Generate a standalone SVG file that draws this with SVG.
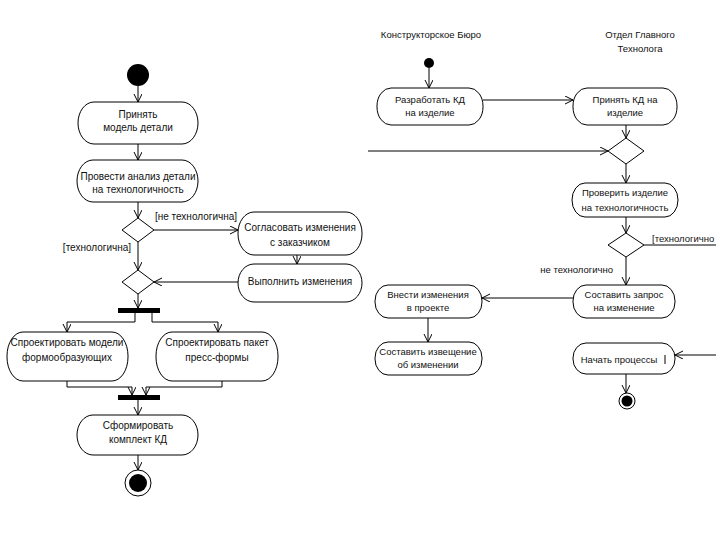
<svg xmlns="http://www.w3.org/2000/svg" width="720" height="540" viewBox="0 0 720 540">
<defs>
<marker id="arr" markerUnits="userSpaceOnUse" markerWidth="10" markerHeight="10" refX="8" refY="4" orient="auto">
<path d="M0,0 L8,4 L0,8" fill="none" stroke="#000" stroke-width="1"/>
</marker>
<style>
.n{fill:#fff;stroke:#000;stroke-width:1}
.t{font-family:"Liberation Sans",Arial,sans-serif;font-size:10px;fill:#111;text-anchor:middle}
.s{font-family:"Liberation Sans",Arial,sans-serif;font-size:9.5px;fill:#111;text-anchor:middle}
.c{fill:none;stroke:#000;stroke-width:1}
.a{fill:none;stroke:#000;stroke-width:1;marker-end:url(#arr)}
.bar{fill:#000}
</style>
</defs>
<rect width="720" height="540" fill="#fff"/>

<g id="connectors">
<line class="a" x1="138" y1="86" x2="138" y2="102"/>
<line class="a" x1="138" y1="144" x2="138" y2="160"/>
<line class="a" x1="138" y1="202" x2="138" y2="218"/>
<line class="a" x1="154" y1="230" x2="238" y2="230"/>
<line class="a" x1="138" y1="242" x2="138" y2="270"/>
<line class="a" x1="297" y1="255" x2="297" y2="264"/>
<line class="a" x1="238" y1="282" x2="154" y2="282"/>
<line class="a" x1="138" y1="294" x2="138" y2="308"/>
<polyline class="a" points="135,313 135,322 67,322 67,332"/>
<polyline class="a" points="152,313 152,322 218,322 218,332"/>
<polyline class="a" points="67,381 67,387 132,387 132,395"/>
<polyline class="a" points="222,381 222,387 146,387 146,395"/>
<line class="a" x1="138" y1="400" x2="138" y2="415"/>
<line class="a" x1="138" y1="455" x2="138" y2="470"/>

<line class="a" x1="429" y1="68" x2="429" y2="88"/>
<line class="a" x1="483" y1="100" x2="573" y2="100"/>
<line class="a" x1="626" y1="125" x2="626" y2="138"/>
<line class="a" x1="368" y1="151" x2="608" y2="151"/>
<line class="a" x1="626" y1="164" x2="626" y2="183"/>
<line class="a" x1="626" y1="217" x2="626" y2="233"/>
<line class="c" x1="644" y1="245" x2="716" y2="245"/>
<line class="a" x1="626" y1="257" x2="626" y2="285"/>
<line class="a" x1="573" y1="298" x2="482" y2="298"/>
<line class="a" x1="428" y1="318" x2="428" y2="342"/>
<line class="a" x1="716" y1="355" x2="675" y2="355"/>
<line class="a" x1="626" y1="374" x2="626" y2="393"/>
</g>

<g id="labels">
<text class="t" x="196" y="220">[не технологична]</text>
<text class="t" x="97" y="251">[технологична]</text>
<text class="s" x="652" y="242" style="text-anchor:start">[технологично</text>
<text class="s" x="613" y="273" style="text-anchor:end">не технологично</text>
<text class="s" x="431" y="38">Конструкторское Бюро</text>
<text class="s" x="640" y="38">Отдел Главного</text>
<text class="s" x="640" y="52">Технолога</text>
</g>

<g id="start1"><circle cx="138" cy="75" r="11" fill="#000"/></g>

<g id="n1"><rect class="n" x="78" y="102" width="120" height="42" rx="16" ry="21"/>
<text class="t" x="138" y="118">Принять</text><text class="t" x="138" y="131">модель детали</text></g>

<g id="n2"><rect class="n" x="77" y="160" width="121" height="42" rx="16" ry="21"/>
<text class="t" x="138" y="180">Провести анализ детали</text><text class="t" x="138" y="193">на технологичность</text></g>

<g id="d1"><polygon class="n" points="138,218 154,230 138,242 122,230"/></g>

<g id="n3"><rect class="n" x="238" y="212" width="124" height="43" rx="16" ry="21"/>
<text class="t" x="300" y="231">Согласовать изменения</text><text class="t" x="300" y="246">с заказчиком</text></g>

<g id="n4"><rect class="n" x="238" y="264" width="124" height="38" rx="16" ry="19"/>
<text class="t" x="300" y="285">Выполнить изменения</text></g>

<g id="d2"><polygon class="n" points="138,270 154,282 138,294 122,282"/></g>

<g id="fork"><rect class="bar" x="118" y="308" width="42" height="5"/></g>

<g id="n5"><rect class="n" x="7" y="332" width="121" height="49" rx="16" ry="24"/>
<text class="t" x="67" y="346">Спроектировать модели</text><text class="t" x="67" y="361">формообразующих</text></g>

<g id="n6"><rect class="n" x="156" y="332" width="122" height="49" rx="16" ry="24"/>
<text class="t" x="217" y="346">Спроектировать пакет</text><text class="t" x="217" y="361">пресс-формы</text></g>

<g id="join"><rect class="bar" x="118" y="395" width="42" height="5"/></g>

<g id="n7"><rect class="n" x="77" y="415" width="121" height="40" rx="16" ry="20"/>
<text class="t" x="138" y="429">Сформировать</text><text class="t" x="138" y="443">комплект КД</text></g>

<g id="end1"><circle cx="138" cy="483" r="13" fill="#fff" stroke="#000"/><circle cx="138" cy="483" r="9" fill="#000"/></g>

<g id="start2"><circle cx="429" cy="63" r="5" fill="#000"/></g>

<g id="r1"><rect class="n" x="377" y="88" width="106" height="37" rx="14" ry="18"/>
<text class="s" x="430" y="103">Разработать КД</text><text class="s" x="430" y="116">на изделие</text></g>

<g id="r2"><rect class="n" x="573" y="88" width="104" height="37" rx="14" ry="18"/>
<text class="s" x="625" y="103">Принять КД на</text><text class="s" x="625" y="116">изделие</text></g>

<g id="rd1"><polygon class="n" points="626,138 644,151 626,164 608,151"/></g>

<g id="r3"><rect class="n" x="572" y="183" width="106" height="34" rx="13" ry="17"/>
<text class="s" x="625" y="196">Проверить изделие</text><text class="s" x="625" y="211">на технологичность</text></g>

<g id="rd2"><polygon class="n" points="626,233 644,245 626,257 608,245"/></g>

<g id="r4"><rect class="n" x="573" y="285" width="102" height="33" rx="13" ry="16"/>
<text class="s" x="624" y="298">Составить запрос</text><text class="s" x="624" y="311">на изменение</text></g>

<g id="r5"><rect class="n" x="375" y="285" width="107" height="33" rx="13" ry="16"/>
<text class="s" x="428" y="298">Внести изменения</text><text class="s" x="428" y="311">в проекте</text></g>

<g id="r6"><rect class="n" x="375" y="342" width="107" height="33" rx="13" ry="16"/>
<text class="s" x="428" y="355">Составить извещение</text><text class="s" x="428" y="368">об изменении</text></g>

<g id="r7"><rect class="n" x="573" y="343" width="102" height="31" rx="13" ry="15"/>
<text class="s" x="619" y="363">Начать процессы</text>
<line x1="665" y1="355" x2="665" y2="364" stroke="#000" stroke-width="1"/></g>

<g id="end2"><circle cx="627" cy="401" r="8" fill="#fff" stroke="#000"/><circle cx="627" cy="401" r="5.5" fill="#000"/></g>
</svg>
